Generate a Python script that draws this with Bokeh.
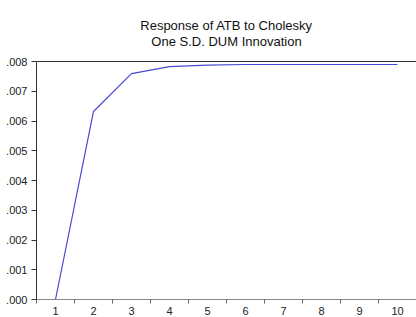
from bokeh.plotting import figure
from bokeh.models import FixedTicker, CustomJSTickFormatter, Span, Range1d, Label
from bokeh.embed import file_html
from bokeh.resources import INLINE

periods = [1, 2, 3, 4, 5, 6, 7, 8, 9, 10]
response = [0.0, 0.00632, 0.00759, 0.00783, 0.00788, 0.00790, 0.00790, 0.00790, 0.00790, 0.00790]
y_ticks = [0.000, 0.001, 0.002, 0.003, 0.004, 0.005, 0.006, 0.007, 0.008]
title_lines = ["Response of ATB to Cholesky", "One S.D. DUM Innovation"]

Y_TOP = 0.008
FRAME_BOTTOM = 299   # px from top of the canvas
AXIS_TOP = 61        # px where .008 sits
PX_PER_UNIT = (FRAME_BOTTOM - AXIS_TOP) / Y_TOP
y_end = FRAME_BOTTOM / PX_PER_UNIT   # frame runs up to the top of the canvas

p = figure(width=416, height=317, output_backend="svg", toolbar_location=None,
           x_range=Range1d(0.5, 10.5), y_range=Range1d(0.0, y_end),
           min_border_left=36, min_border_right=0, min_border_top=0,
           min_border_bottom=317 - FRAME_BOTTOM)
p.title = None
p.outline_line_color = None
p.xgrid.grid_line_color = None
p.ygrid.grid_line_color = None
p.background_fill_color = "white"
p.border_fill_color = "white"

# title lines placed above the data box
for t, base_px in zip(title_lines, [24.5, 40.5]):
    p.add_layout(Label(x=5.5, y=(FRAME_BOTTOM - base_px) / PX_PER_UNIT, text=t,
                       text_align="center", text_baseline="alphabetic",
                       text_font="Liberation Sans", text_font_size="13px",
                       text_color="#111111"))

p.line(periods, response, line_color="#4848d0", line_width=1.2)

p.add_layout(Span(location=Y_TOP, dimension="width", line_color="#333333", line_width=1))

# y axis
p.yaxis.bounds = (0.0, Y_TOP)
p.yaxis.ticker = FixedTicker(ticks=y_ticks, minor_ticks=[])
p.yaxis.formatter = CustomJSTickFormatter(code="return tick.toFixed(3).replace(/^0/, '');")
p.yaxis.axis_line_color = "#333333"
p.yaxis.major_tick_line_color = "#333333"
p.yaxis.major_tick_out = 5
p.yaxis.major_tick_in = 0
p.yaxis.major_label_standoff = 4
p.yaxis.major_label_text_font = "Liberation Sans"
p.yaxis.major_label_text_font_size = "11px"
p.yaxis.major_label_text_color = "#222222"

# x axis
p.xaxis.ticker = FixedTicker(ticks=periods, minor_ticks=[x + 0.5 for x in [0] + periods])
p.xaxis.axis_line_color = "#888888"
p.xaxis.major_tick_line_color = None
p.xaxis.major_tick_out = 0
p.xaxis.major_tick_in = 0
p.xaxis.minor_tick_line_color = "#666666"
p.xaxis.minor_tick_out = 4
p.xaxis.minor_tick_in = 0
p.xaxis.major_label_standoff = 3
p.xaxis.major_label_text_font = "Liberation Sans"
p.xaxis.major_label_text_font_size = "11px"
p.xaxis.major_label_text_color = "#222222"

html = file_html(p, INLINE)
html = html.replace("<head>", "<head><style>html,body{margin:0;padding:0;}</style>", 1)
open("out.html", "w").write(html)
